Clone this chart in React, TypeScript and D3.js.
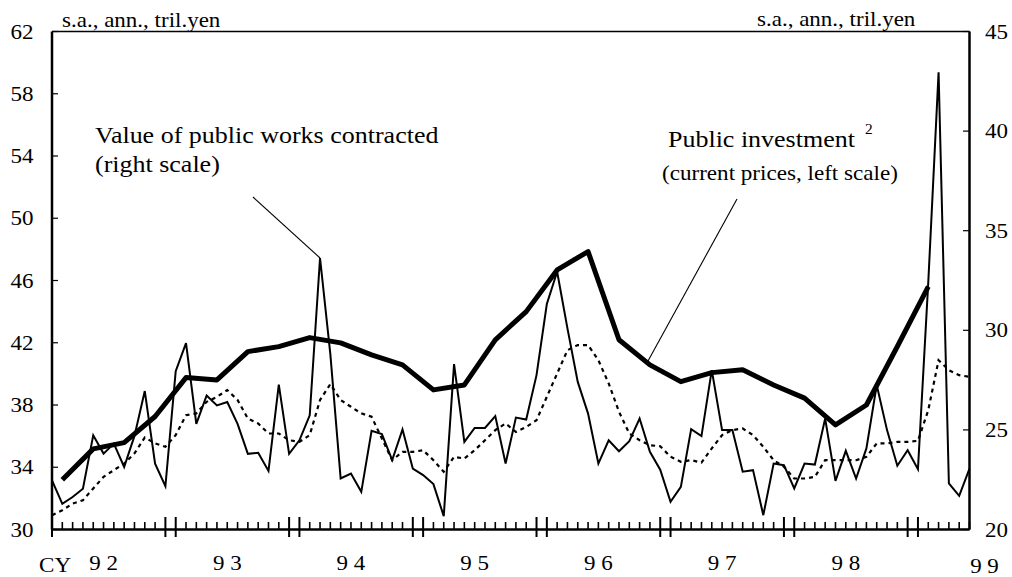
import React from "react";
import * as d3 from "d3";

// monthly, Jan 1992 .. Jun 1999
const years = ["9 2", "9 3", "9 4", "9 5", "9 6", "9 7", "9 8", "9 9"];

// value of public works contracted, right scale (tril. yen)
const contracted = [
  22.47, 21.29, 21.63, 22.05, 24.73, 23.81, 24.31, 23.14, 24.7, 26.95, 23.3, 22.17,
  27.95, 29.36, 25.3, 26.73, 26.23, 26.4, 25.3, 23.8, 23.85, 22.94, 27.27, 23.8,
  24.48, 25.73, 33.63, 28.8, 22.56, 22.81, 21.89, 24.95, 24.79, 23.48, 25.02, 23.06,
  22.73, 22.28, 20.67, 28.3, 24.4, 25.1, 25.1, 25.69, 23.31, 25.62, 25.52, 27.75,
  31.32, 32.94, 30.1, 27.41, 25.82, 23.31, 24.48, 23.93, 24.43, 25.57, 23.9, 23.0,
  21.39, 22.14, 25.04, 24.69, 28.0, 24.99, 24.99, 22.9, 22.98, 20.72, 23.31, 23.23,
  22.06, 23.31, 23.26, 25.57, 22.44, 23.95, 22.56, 24.07, 27.25, 24.99, 23.2, 23.98,
  23.03, 32.4, 42.95, 22.31, 21.69, 23.06,
];

// smoothed contracted series (dotted), right scale
const contractedAvg = [
  20.72, 20.97, 21.3, 21.47, 22.06, 22.64, 22.98, 23.31, 23.82, 24.62, 24.32, 24.15,
  24.74, 25.74, 25.83, 26.41, 26.66, 27.0, 26.5, 25.57, 25.32, 24.82, 24.82, 24.48,
  24.4, 24.74, 26.5, 27.3, 26.5, 26.16, 25.83, 25.66, 24.57, 23.48, 23.9, 23.9,
  23.98, 23.48, 22.9, 23.65, 23.56, 23.98, 24.48, 24.99, 25.32, 24.9, 25.15, 25.49,
  26.66, 27.83, 29.0, 29.26, 29.26, 28.5, 27.33, 25.91, 24.82, 24.48, 24.23, 24.18,
  23.65, 23.4, 23.48, 23.36, 24.07, 24.74, 24.99, 25.07, 24.74, 24.15, 23.48, 23.15,
  22.56, 22.56, 22.64, 23.48, 23.48, 23.48, 23.48, 23.65, 24.32, 24.32, 24.4, 24.4,
  24.45, 25.99, 28.5, 28.0, 27.75, 27.66,
];

// public investment, quarterly (plotted at mid-quarter month), left scale
const investment = [
  33.19, 35.18, 35.58, 37.26, 39.76, 39.61, 41.43, 41.75, 42.33, 41.99, 41.22, 40.58,
  38.97, 39.29, 42.19, 44.0, 46.68, 47.86, 42.19, 40.58, 39.5, 40.08, 40.26, 39.29,
  38.44, 36.72, 38.0, 41.76, 45.6,
];

const leftTicks = [30, 34, 38, 42, 46, 50, 54, 58, 62];
const rightTicks = [20, 25, 30, 35, 40, 45];

const W = 1012;
const H = 577;
const FONT = "Liberation Serif, Times New Roman, Times, DejaVu Serif, serif";

const Txt = ({ x, y, size = 20, sx = 1.15, anchor = "start", children }: any) => (
  <text
    transform={`translate(${x},${y}) scale(${sx},1)`}
    style={{ fontFamily: FONT, fontSize: size }}
    textAnchor={anchor}
    fill="#000"
  >
    {children}
  </text>
);

export default function App() {
  const x = d3.scaleLinear().domain([0, 89]).range([52, 969.5]);
  const yL = d3.scaleLinear().domain([30, 62]).range([529.5, 31.5]);
  const yR = d3.scaleLinear().domain([20, 45]).range([529.5, 31.5]);

  const lineR = d3
    .line<number>()
    .x((_, i) => x(i))
    .y((d) => yR(d));
  const lineInv = d3
    .line<number>()
    .x((_, i) => x(1 + i * 3))
    .y((d) => yL(d));

  const months = d3.range(0, 90);
  const spike = [x(26), yR(contracted[26])];

  return (
    <svg
      width={W}
      height={H}
      style={{ position: "absolute", left: 0, top: 0, background: "#fff" }}
    >
      {/* frame */}
      <line x1={52} x2={969.5} y1={31.5} y2={31.5} stroke="#000" strokeWidth={1.5} />
      <line x1={52} x2={52} y1={31.5} y2={529.5} stroke="#000" strokeWidth={2.5} />
      <line x1={969.5} x2={969.5} y1={31.5} y2={529.5} stroke="#000" strokeWidth={2.5} />
      <line x1={52} x2={969.5} y1={529.5} y2={529.5} stroke="#000" strokeWidth={2.5} />

      {/* left axis */}
      {leftTicks.map((t) => (
        <g key={"l" + t}>
          <line x1={52} x2={58} y1={yL(t)} y2={yL(t)} stroke="#000" strokeWidth={1.2} />
          <Txt x={33.5} y={yL(t) + 7} anchor="end">
            {t}
          </Txt>
        </g>
      ))}

      {/* right axis */}
      {rightTicks.map((t) => (
        <g key={"r" + t}>
          <line x1={963} x2={969.5} y1={yR(t)} y2={yR(t)} stroke="#000" strokeWidth={1.2} />
          <Txt x={985} y={yR(t) + 7}>
            {t}
          </Txt>
        </g>
      ))}

      {/* month ticks, long ones at Dec/Jan */}
      {months.map((m) => {
        const long = m % 12 === 0 || m % 12 === 11;
        return (
          <line
            key={"m" + m}
            x1={x(m)}
            x2={x(m)}
            y1={long ? 517 : 522}
            y2={long ? 537 : 529.5}
            stroke="#000"
            strokeWidth={long ? 2 : 1.6}
          />
        );
      })}

      {/* year labels */}
      <Txt x={39} y={572} size={22} sx={1.05}>
        CY
      </Txt>
      {years.map((yl, k) => (
        <Txt
          key={yl}
          x={k < 7 ? x(k * 12 + 5) : x(89) + 15}
          y={k < 7 ? 570 : 573}
          anchor="middle"
        >
          {yl}
        </Txt>
      ))}

      {/* units */}
      <Txt x={62} y={27}>s.a., ann., tril.yen</Txt>
      <Txt x={757} y={26}>s.a., ann., tril.yen</Txt>

      {/* series */}
      <path
        d={lineR(contractedAvg) || ""}
        fill="none"
        stroke="#000"
        strokeWidth={2.2}
        strokeDasharray="4 4"
      />
      <path d={lineR(contracted) || ""} fill="none" stroke="#000" strokeWidth={2} strokeLinejoin="miter" />
      <path d={lineInv(investment) || ""} fill="none" stroke="#000" strokeWidth={5} strokeLinejoin="round" />

      {/* annotations */}
      <line x1={253} y1={197} x2={spike[0]} y2={spike[1]} stroke="#000" strokeWidth={1.1} />
      <Txt x={95} y={143} size={23} sx={1.13}>
        Value of public works contracted
      </Txt>
      <Txt x={95} y={172} size={23} sx={1.13}>
        (right scale)
      </Txt>

      <line x1={737} y1={199} x2={648} y2={361} stroke="#000" strokeWidth={1.1} />
      <Txt x={668} y={147} size={23} sx={1.13}>
        Public investment
      </Txt>
      <Txt x={865} y={134} size={14} sx={1.1}>
        2
      </Txt>
      <Txt x={662} y={180} size={21} sx={1.1}>
        (current prices, left scale)
      </Txt>
    </svg>
  );
}
